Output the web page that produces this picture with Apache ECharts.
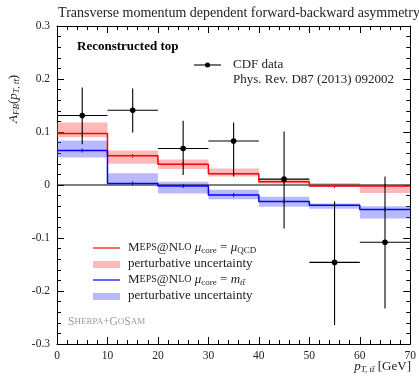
<!DOCTYPE html>
<html><head><meta charset="utf-8">
<script src="https://cdn.jsdelivr.net/npm/echarts@6/dist/echarts.min.js"></script>
<style>html,body{margin:0;padding:0;background:#fff}#c{width:419px;height:377px}</style>
</head><body><div id="c"></div>
<script>
const binEdges = [0, 10, 20, 30, 40, 50, 60, 70];
const cdfCenters = [5, 15, 25, 35, 45, 55, 65];
const cdfValues = [0.131, 0.141, 0.069, 0.083, 0.011, -0.146, -0.108];
const cdfUpper = [0.184, 0.182, 0.121, 0.118, 0.101, -0.031, 0.016];
const cdfLower = [0.077, 0.099, 0.019, 0.016, -0.082, -0.264, -0.233];

const qcdCentral = [0.097, 0.055, 0.039, 0.021, 0.006, -0.002, -0.002];
const qcdHigh = [0.118, 0.065, 0.048, 0.031, 0.011, 0.004, -0.002];
const qcdLow = [0.090, 0.040, 0.030, 0.016, 0.003, -0.004, -0.015];

const mttCentral = [0.065, 0.003, -0.002, -0.019, -0.031, -0.038, -0.046];
const mttHigh = [0.084, 0.022, 0.006, -0.009, -0.022, -0.035, -0.040];
const mttLow = [0.052, 0.002, -0.016, -0.027, -0.041, -0.045, -0.063];

const xTicks = [0, 10, 20, 30, 40, 50, 60, 70];
const yTicks = [-0.3, -0.2, -0.1, 0, 0.1, 0.2, 0.3];

const FONT = 'Liberation Serif';

function stepData(vals) {
  const out = [];
  vals.forEach((v, i) => { out.push([binEdges[i], v]); out.push([binEdges[i + 1], v]); });
  return out;
}
function bandData(lo, hi) {
  return lo.map((l, i) => [binEdges[i], binEdges[i + 1], l, hi[i]]);
}
function bandSeries(lo, hi, color) {
  return {
    type: 'custom', data: bandData(lo, hi), silent: true, z: 1,
    renderItem: function (params, api) {
      const p0 = api.coord([api.value(0), api.value(3)]);
      const p1 = api.coord([api.value(1), api.value(2)]);
      return { type: 'rect', shape: { x: p0[0], y: p0[1], width: p1[0] - p0[0], height: p1[1] - p0[1] }, style: { fill: color } };
    }
  };
}
function centerTicks(vals, color) {
  return {
    type: 'custom', data: vals.map((v, i) => [cdfCenters[i], v]), silent: true, z: 3,
    renderItem: function (params, api) {
      const p = api.coord([api.value(0), api.value(1)]);
      return { type: 'line', shape: { x1: p[0], y1: p[1] - 2, x2: p[0], y2: p[1] + 2 }, style: { stroke: color, lineWidth: 1 } };
    }
  };
}

const chart = echarts.init(document.getElementById('c'));
const axisCommon = {
  axisLine: { show: true, onZero: false, lineStyle: { color: '#000', width: 1 } },
  splitLine: { show: false },
};
chart.setOption({
  animation: false,
  grid: { left: 57, right: 8, top: 26, bottom: 33 },
  title: {
    text: 'Transverse momentum dependent forward-backward asymmetry',
    left: 234, top: 1, textAlign: 'center',
    textStyle: { fontFamily: FONT, fontSize: 14, fontWeight: 'normal', color: '#222' }
  },
  xAxis: [
    Object.assign({ type: 'value', min: 0, max: 70, interval: 10, position: 'bottom',
      axisTick: { inside: true, length: 7, lineStyle: { color: '#000' } },
      minorTick: { show: true, splitNumber: 5, length: 4, lineStyle: { color: '#000' } },
      axisLabel: { fontFamily: FONT, fontSize: 11.5, color: '#222', margin: 6 } }, axisCommon),
    Object.assign({ type: 'value', min: 0, max: 70, interval: 10, position: 'top',
      axisTick: { inside: true, length: 7, lineStyle: { color: '#000' } },
      minorTick: { show: true, splitNumber: 5, length: 4, lineStyle: { color: '#000' } },
      axisLabel: { show: false } }, axisCommon)
  ],
  yAxis: [
    Object.assign({ type: 'value', min: -0.3, max: 0.3, interval: 0.1, position: 'left',
      axisTick: { inside: true, length: 7, lineStyle: { color: '#000' } },
      minorTick: { show: true, splitNumber: 5, length: 4, lineStyle: { color: '#000' } },
      axisLabel: { fontFamily: FONT, fontSize: 11.5, color: '#222', margin: 7,
        formatter: v => { const r = Math.round(v * 10) / 10; return r === 0 ? '0' : r.toFixed(1); } } }, axisCommon),
    Object.assign({ type: 'value', min: -0.3, max: 0.3, interval: 0.1, position: 'right',
      axisTick: { inside: true, length: 7, lineStyle: { color: '#000' } },
      minorTick: { show: true, splitNumber: 5, length: 4, lineStyle: { color: '#000' } },
      axisLabel: { show: false } }, axisCommon)
  ],
  series: [
    bandSeries(qcdLow, qcdHigh, 'rgba(255,80,80,0.4)'),
    bandSeries(mttLow, mttHigh, 'rgba(80,80,255,0.4)'),
    { type: 'line', data: [[0, 0], [70, 0]], symbol: 'none', lineStyle: { color: '#000', width: 1.2 }, z: 2, silent: true },
    { type: 'line', data: stepData(qcdCentral), symbol: 'none', lineStyle: { color: '#ff0000', width: 1.5 }, z: 3, silent: true },
    { type: 'line', data: stepData(mttCentral), symbol: 'none', lineStyle: { color: '#0000ff', width: 1.5 }, z: 3, silent: true },
    centerTicks(qcdCentral, '#ff0000'),
    centerTicks(mttCentral, '#0000ff'),
    {
      type: 'custom', z: 5, silent: true,
      data: cdfCenters.map((c, i) => [c, cdfValues[i], cdfLower[i], cdfUpper[i], binEdges[i], binEdges[i + 1]]),
      renderItem: function (params, api) {
        const p = api.coord([api.value(0), api.value(1)]);
        const lo = api.coord([api.value(0), api.value(2)]);
        const hi = api.coord([api.value(0), api.value(3)]);
        const l = api.coord([api.value(4), api.value(1)]);
        const r = api.coord([api.value(5), api.value(1)]);
        const st = { stroke: '#000', lineWidth: 1.1 };
        return { type: 'group', children: [
          { type: 'line', shape: { x1: p[0], y1: lo[1], x2: p[0], y2: hi[1] }, style: st },
          { type: 'line', shape: { x1: l[0], y1: p[1], x2: r[0], y2: p[1] }, style: st },
          { type: 'circle', shape: { cx: p[0], cy: p[1], r: 2.8 }, style: { fill: '#000' } }
        ] };
      }
    }
  ],
  graphic: [
    { type: 'text', left: 77, top: 40, style: { text: 'Reconstructed top', font: 'bold 13px ' + FONT, fill: '#000' } },
    { type: 'line', shape: { x1: 194, y1: 65, x2: 221, y2: 65 }, style: { stroke: '#000', lineWidth: 1.1 } },
    { type: 'circle', shape: { cx: 207.5, cy: 65, r: 2.5 }, style: { fill: '#000' } },
    { type: 'text', left: 233, top: 58, style: { text: 'CDF data', font: '13px ' + FONT, fill: '#222' } },
    { type: 'text', left: 233, top: 73, style: { text: 'Phys. Rev. D87 (2013) 092002', font: '13px ' + FONT, fill: '#222' } },

    { type: 'line', shape: { x1: 93, y1: 248, x2: 120, y2: 248 }, style: { stroke: '#ff0000', lineWidth: 1.2 } },
    { type: 'rect', shape: { x: 93, y: 261, width: 27, height: 7 }, style: { fill: 'rgba(255,80,80,0.4)' } },
    { type: 'line', shape: { x1: 93, y1: 280, x2: 120, y2: 280 }, style: { stroke: '#0000ff', lineWidth: 1.2 } },
    { type: 'rect', shape: { x: 93, y: 293, width: 27, height: 7 }, style: { fill: 'rgba(80,80,255,0.4)' } },
    { type: 'text', left: 128, top: 241, style: {
      text: '{a|M}{s|EPS}{a|@N}{s|LO} {i|μ}{sub|core}{a| = }{i|μ}{sub|QCD}',
      rich: { a: { font: '13px ' + FONT, fill: '#222' }, s: { font: '10px ' + FONT, fill: '#222' },
        i: { font: 'italic 13px ' + FONT, fill: '#222' }, sub: { font: '9px ' + FONT, fill: '#222', padding: [6, 0, 0, 0] } } } },
    { type: 'text', left: 128, top: 257, style: { text: 'perturbative uncertainty', font: '13px ' + FONT, fill: '#222' } },
    { type: 'text', left: 128, top: 273, style: {
      text: '{a|M}{s|EPS}{a|@N}{s|LO} {i|μ}{sub|core}{a| = }{i|m}{isub|tt\u0304}',
      rich: { a: { font: '13px ' + FONT, fill: '#222' }, s: { font: '10px ' + FONT, fill: '#222' },
        i: { font: 'italic 13px ' + FONT, fill: '#222' }, sub: { font: '9px ' + FONT, fill: '#222', padding: [6, 0, 0, 0] },
        isub: { font: 'italic 9px ' + FONT, fill: '#222', padding: [6, 0, 0, 0] } } } },
    { type: 'text', left: 128, top: 289, style: { text: 'perturbative uncertainty', font: '13px ' + FONT, fill: '#222' } },
    { type: 'text', left: 68, top: 316, style: {
      text: '{a|S}{s|HERPA}{a|+G}{s|O}{a|S}{s|AM}',
      rich: { a: { font: '11.5px ' + FONT, fill: '#999' }, s: { font: '9px ' + FONT, fill: '#999' } } } },

    { type: 'text', x: 14, y: 99, rotation: Math.PI / 2, style: {
      text: '{i|A}{sub|FB}{a|(}{i|p}{sub|T, tt\u0304}{a|)}', align: 'center', verticalAlign: 'middle',
      rich: { a: { font: '13px ' + FONT, fill: '#222' }, i: { font: 'italic 13px ' + FONT, fill: '#222' },
        sub: { font: 'italic 9px ' + FONT, fill: '#222', padding: [6, 0, 0, 0] } } } },
    { type: 'text', right: 8, top: 360, style: {
      text: '{i|p}{sub|T, tt\u0304}{a| [GeV]}',
      rich: { a: { font: '13px ' + FONT, fill: '#222' }, i: { font: 'italic 13px ' + FONT, fill: '#222' },
        sub: { font: 'italic 9px ' + FONT, fill: '#222', padding: [6, 0, 0, 0] } } } }
  ]
});
</script></body></html>
